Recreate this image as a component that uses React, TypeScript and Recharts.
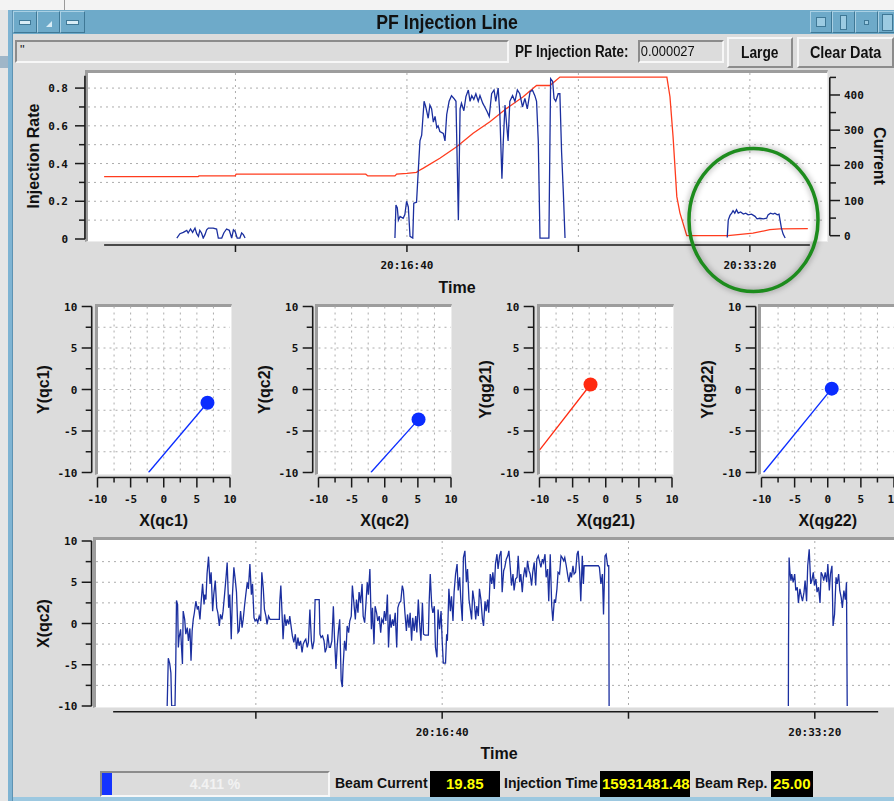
import React from 'react'
import { ComposedChart, Line, Scatter, XAxis, YAxis, CartesianGrid, ReferenceLine } from 'recharts'

type Pt = [number, number]

// time is in seconds after 20:00:00
const timeTicks = [500, 1000, 1500, 2000]
const timeLabelled = [1000, 2000]

// injection rate, three bursts
const rateBurstA: Pt[] = [
  [329, 0.005], [338, 0.028], [348, 0.035], [358, 0.046], [362, 0.032], [369, 0.053], [375, 0.035], [382, 0.058],
  [387, 0.028], [392, 0.014], [396, 0.046], [401, 0.032], [406, 0.005], [411, 0.023], [416, 0.049], [421, 0.058],
  [435, 0.058], [445, 0.053], [450, 0.005], [460, 0.005], [466, 0.032], [474, 0.053], [482, 0.046], [489, 0.005],
  [494, 0.049], [499, 0.04], [505, 0.005], [513, 0.005], [518, 0.032], [523, 0.023], [528, 0.005],
]
const rateBurstB: Pt[] = [
  [965, 0.005], [968, 0.18], [972, 0.165], [975, 0.1], [980, 0.12], [989, 0.11], [994, 0.13], [999, 0.2],
  [1004, 0.17], [1009, 0.014], [1017, 0.005], [1020, 0.19], [1028, 0.195], [1033, 0.36], [1038, 0.52], [1043, 0.55],
  [1050, 0.73], [1055, 0.7], [1062, 0.64], [1067, 0.71], [1072, 0.69], [1077, 0.62], [1082, 0.65], [1087, 0.59],
  [1091, 0.6], [1096, 0.57], [1106, 0.56], [1111, 0.52], [1116, 0.66], [1123, 0.73], [1130, 0.76], [1137, 0.745],
  [1143, 0.73], [1150, 0.1], [1155, 0.69], [1159, 0.72], [1166, 0.68], [1172, 0.755], [1179, 0.79], [1184, 0.73],
  [1189, 0.76], [1195, 0.74], [1201, 0.77], [1208, 0.73], [1213, 0.76], [1221, 0.72], [1227, 0.7], [1234, 0.675],
  [1240, 0.65], [1247, 0.77], [1254, 0.79], [1259, 0.73], [1266, 0.8], [1271, 0.66], [1277, 0.32], [1281, 0.52],
  [1286, 0.71], [1291, 0.6], [1295, 0.52], [1300, 0.73], [1308, 0.76], [1315, 0.73], [1322, 0.79], [1329, 0.77],
  [1337, 0.7], [1344, 0.745], [1351, 0.69], [1359, 0.78], [1366, 0.79], [1373, 0.76], [1378, 0.73], [1383, 0.52],
  [1388, 0.005], [1414, 0.005], [1419, 0.85], [1425, 0.835], [1429, 0.745], [1434, 0.73], [1441, 0.77], [1446, 0.77],
  [1451, 0.46], [1456, 0.25], [1461, 0.005],
]
const rateBurstC: Pt[] = [
  [1934, 0.008], [1937, 0.1], [1942, 0.125], [1947, 0.137], [1951, 0.15], [1956, 0.137], [1961, 0.155], [1966, 0.137],
  [1973, 0.143], [1981, 0.132], [1988, 0.137], [1995, 0.128], [2005, 0.132], [2015, 0.12], [2021, 0.107], [2029, 0.11],
  [2039, 0.107], [2049, 0.11], [2053, 0.128], [2060, 0.137], [2068, 0.132], [2073, 0.137], [2080, 0.128], [2085, 0.132],
  [2092, 0.058], [2097, 0.026], [2103, 0.005],
]

// stored beam current
const currentTrace: Pt[] = [
  [117, 168], [391, 168], [394, 170], [499, 170], [502, 175], [880, 175], [886, 170], [965, 170], [970, 175],
  [1000, 177], [1028, 180], [1033, 184], [1048, 192], [1096, 220], [1145, 253], [1193, 291], [1242, 324],
  [1291, 362], [1339, 395], [1368, 419], [1378, 427], [1417, 427], [1446, 451], [1758, 451], [1767, 395],
  [1776, 282], [1787, 111], [1796, 65], [1816, 0], [1936, 0], [2009, 7], [2058, 17], [2087, 19.5], [2169, 19.85],
]

// X(qc2) position history
const qc2RunA: Pt[] = [
  [262, -10], [265, -4.2], [269, -4.9], [272, -6], [274, -10], [283, -10], [285, -5.1], [287, 2.8], [290, 2.3],
  [292, -2.9], [294, -1.7], [298, -0.7], [301, -3.3], [303, -4.9], [305, 1.5], [309, 0.5], [312, -1.3], [316, -0.5],
  [319, -2.1], [323, -0.6], [326, -4.5], [329, -0.9], [332, 0.5], [335, 1.3], [339, 2.7], [343, 1.7], [346, 2.1],
  [350, 0.5], [353, 2.5], [357, 4.8], [361, 2.3], [363, 3.5], [366, 2.9], [369, 6], [373, 8.1], [377, 4.8], [380, 6.2],
  [384, 1.5], [387, 3.5], [391, 5.2], [395, 1.9], [398, 1.3], [402, -0.3], [405, 1.1], [409, 0.5], [412, 1.5],
  [416, 3.5], [420, 5.6], [423, 7.4], [427, 1.9], [430, 3.5], [434, -1.9], [437, 3.3], [441, 6.8], [445, 5.2],
  [448, 3.8], [452, -1.1], [455, -0.9], [459, 1.5], [463, -0.5], [466, 0.5], [470, 2.3], [473, 3.5], [477, 5],
  [480, 4.2], [484, 7.2], [488, 3.5], [491, 4.8], [495, 0.7], [498, 0.3], [502, 0.5], [505, 0.1], [509, 0.9],
  [513, 0.3], [516, 6.2], [520, 4.2], [523, 1.7], [527, 0.9], [530, -0.1], [534, 0.9], [538, 0.5], [563, 0.5],
  [564, 2.5], [567, 4.6], [570, 1.5], [573, -1.9], [577, 1.1], [581, -0.3], [584, 0.5], [588, -0.1], [591, 0.9],
  [595, -0.5], [598, -1.5], [602, -2.3], [606, -1.3], [609, -3.1], [613, -1.7], [616, -2.7], [620, -2.1], [624, -3.5],
  [627, -2.5], [631, -2.1], [634, -1.9], [638, -2.9], [641, -2.3], [645, 1.7], [649, -2.1], [652, -3.1], [656, -2.1],
  [659, 2.9], [670, 2.9], [672, -1.3], [675, -1.7], [679, -1.5], [683, -2.1], [686, -3.5], [690, -2.9], [693, -1.3],
  [697, -2.9], [700, -2.9], [704, -2.1], [708, 2.1], [711, -1.7], [715, -5.5], [718, -2.9], [722, -0.7], [725, 0.5],
  [729, -6.9], [732, -7.7], [734, -5.3], [738, -2.1], [742, -3.3], [745, -0.3], [749, -1.1], [752, 0.3], [756, 0.9],
  [759, 4.6], [763, 2.5], [767, 0.5], [770, 2.9], [774, 1.3], [777, 3.8], [781, 2.5], [785, 4.8], [788, 0.9],
  [792, 0.1], [795, 2.1], [799, 5], [802, 3.5], [806, 6.6], [810, -0.7], [813, 1.9], [817, -2.5], [820, 2.1],
  [824, 1.3], [827, 0.3], [831, 0.9], [835, -1.1], [838, 0.5], [842, 0.1], [845, 1.5], [849, 0.3], [853, 3.5],
  [856, -2.9], [860, 1.1], [863, -0.5], [867, 0.5], [870, -0.3], [874, 1.3], [878, -2.9], [881, 1.9], [885, 2.5],
  [889, 2.7], [893, 4.6], [896, 4], [900, 1.3], [904, -0.9], [907, 1.1], [911, -0.5], [914, 1.3], [918, -2.1],
  [921, 0.7], [925, -0.9], [929, 0.9], [932, -1.1], [936, 2.9], [939, 0.3], [943, -2.1], [947, 2.5], [950, -1.3],
  [954, -1.4], [963, -1.4], [965, 2.5], [968, 6], [972, 2.1], [975, 1.3], [979, 2.1], [982, -2.9], [986, -4.1],
  [989, 1.7], [993, -0.7], [997, 1.5], [1000, -2.1], [1003, -4.8], [1009, -4.8], [1012, -1.3], [1014, -2.1],
  [1018, 4.2], [1022, 1.5], [1025, 3.3], [1029, 0.3], [1032, 3.8], [1036, 6], [1040, 7.2], [1043, 4], [1047, 5.6],
  [1050, 2.9], [1054, 0.3], [1057, 8], [1061, 8.8], [1065, 5], [1068, 6.6], [1072, 2.9], [1075, 1.9], [1079, 0.5],
  [1082, 4], [1086, 2.7], [1090, 0.5], [1093, 2.1], [1097, 0.9], [1100, 4.2], [1104, 2.9], [1108, 0.5], [1111, -0.3],
  [1115, 2.7], [1118, 1.5], [1122, 2.9], [1125, 1.3], [1129, 6], [1133, 4.8], [1136, 6.2], [1140, 4.2], [1143, 7.2],
  [1147, 8.4], [1150, 6.6], [1154, 8.2], [1158, 8.8], [1161, 3.8], [1165, 6.4], [1168, 6.8], [1172, 7.8], [1176, 8.2],
  [1179, 8.8], [1183, 6.6], [1186, 4.6], [1190, 6], [1193, 4], [1197, 5.4], [1201, 5.6], [1204, 8.2], [1208, 5],
  [1211, 6], [1215, 3.8], [1218, 5.6], [1222, 6.8], [1226, 5.6], [1229, 7.6], [1233, 6.4], [1236, 6], [1240, 4.6],
  [1243, 6.2], [1247, 7.4], [1251, 4.6], [1254, 7.8], [1258, 8.2], [1261, 7.6], [1265, 6.8], [1269, 7.8], [1272, 7.4],
  [1276, 8.4], [1279, 5.6], [1283, 6.6], [1286, 2.7], [1290, 8.4], [1294, 2.1], [1297, 0.3], [1301, 2.9], [1304, 2.5],
  [1308, 4.2], [1311, 6.2], [1315, 6], [1319, 8.2], [1322, 8], [1326, 7.6], [1329, 8], [1333, 7], [1337, 5.8],
  [1340, 5], [1344, 6.2], [1347, 5.6], [1351, 7], [1354, 6], [1358, 6.2], [1362, 8.4], [1365, 8.8], [1369, 6.2],
  [1372, 2.7], [1376, 8.2], [1379, 4.8], [1381, 7], [1419, 7], [1422, 6.8], [1426, 4.8], [1430, 6], [1433, 1.1],
  [1437, 8.2], [1440, 8.4], [1444, 7], [1447, 7], [1448, -10],
]
const qc2RunB: Pt[] = [
  [1929, -10], [1929.5, -1.9], [1931, 8], [1933, 6.4], [1936, 5.2], [1938, 6], [1942, 5], [1946, 6], [1949, 4],
  [1953, 4.4], [1956, 2.5], [1960, 4.2], [1964, 3.3], [1967, 2.7], [1971, 3.8], [1974, 5.2], [1978, 2.7], [1981, 7],
  [1985, 9], [1989, 4.8], [1992, 5.2], [1996, 6.2], [1999, 4.6], [2003, 5.4], [2006, 3.8], [2010, 4.4], [2014, 2.5],
  [2017, 6.2], [2021, 5.8], [2024, 5.2], [2028, 6.2], [2032, 5], [2035, 7.2], [2039, 4], [2042, 6], [2046, 7],
  [2049, -0.3], [2053, 1.1], [2057, 5.6], [2060, 4.8], [2064, 6], [2067, 4], [2071, 3.1], [2074, 1.9], [2078, 4],
  [2082, 2.9], [2085, 5], [2087, -10],
]

// position monitors: trail start and current beam position
const padNames = ['qc1', 'qc2', 'qg21', 'qg22']
const padTrailStart: Pt[] = [[-2.3, -10], [-2.1, -10], [-10, -7.3], [-9.7, -10]]
const padBeam: Pt[] = [[6.6, -1.6], [5.1, -3.6], [-2.3, 0.6], [0.6, 0.1]]
const padColors = ['#0a2cff', '#0a2cff', '#ff2a10', '#0a2cff']

const rateTicks = [0, 0.1, 0.2, 0.3, 0.4, 0.5, 0.6, 0.7, 0.8]
const currentTicks = [0, 50, 100, 150, 200, 250, 300, 350, 400, 450]
const padTicks = [-10, -7.5, -5, -2.5, 0, 2.5, 5, 7.5, 10]
const padGrid = [-7.5, -5, -2.5, 0, 2.5, 5, 7.5]

const injectionRateReading = '0.000027'
const progressPct = 4.411
const injectionTime = '15931481.48'
const beamRep = '25.00'

const UI_FONT = '"Liberation Sans", Arial, sans-serif'
const TITLE_FONT = '"Liberation Sans", Arial, sans-serif'
const TICK_FONT = '"DejaVu Sans Mono", monospace'
const TRACE_BLUE = '#1b2f9f'

const hhmmss = (t: number) => {
  const s = 72000 + t
  return [Math.floor(s / 3600), Math.floor((s % 3600) / 60), s % 60].map((n) => String(n).padStart(2, '0')).join(':')
}

function toRows(segs: Pt[][]) {
  const rows: { t: number; v: number | null }[] = []
  segs.forEach((seg, i) => {
    if (i > 0) {
      const prev = segs[i - 1]
      rows.push({ t: (prev[prev.length - 1][0] + seg[0][0]) / 2, v: null })
    }
    seg.forEach(([t, v]) => rows.push({ t, v }))
  })
  return rows
}

function YTick(props: any) {
  const { x, y, payload, side, gap, labelGap, isMajor, fmt } = props
  const v = payload.value
  const major = isMajor(v)
  const dir = side === 'left' ? -1 : 1
  const x0 = x + dir * gap
  return (
    <g>
      <line x1={x0} x2={x0 + dir * (major ? 10 : 6)} y1={y} y2={y} stroke="#1a1a1a" strokeWidth={1.5} />
      {major && (
        <text x={x0 + dir * labelGap} y={y} dy={4} textAnchor={side === 'left' ? 'end' : 'start'}
          fontFamily={TICK_FONT} fontWeight="bold" fontSize={11} fill="#111">
          {fmt(v)}
        </text>
      )}
    </g>
  )
}

function XTick(props: any) {
  const { x, y, payload, gap, isMajor, fmt, majorLen, minorLen } = props
  const v = payload.value
  const major = isMajor(v)
  return (
    <g>
      <line x1={x} x2={x} y1={y + gap} y2={y + gap + (major ? majorLen : minorLen)} stroke="#1a1a1a" strokeWidth={1.5} />
      {major && (
        <text x={x} y={y + 30} textAnchor="middle" fontFamily={TICK_FONT} fontWeight="bold" fontSize={11} fill="#111">
          {fmt(v)}
        </text>
      )}
    </g>
  )
}

// axis caption; placed from the axis box that recharts hands to labels
function AxisTitle(props: any) {
  const { viewBox, caption, edge, shift } = props
  const { x, y, width, height } = viewBox
  const common = { fontFamily: TITLE_FONT, fontWeight: 'bold' as const, fontSize: 16, fill: '#111' }
  if (edge === 'bottom') {
    return <text x={x + width / 2} y={y + shift} textAnchor="middle" {...common}>{caption}</text>
  }
  const cx = x + shift
  const cy = y + height / 2
  return (
    <text x={cx} y={cy} dy={6} textAnchor="middle" transform={`rotate(${edge === 'left' ? -90 : 90} ${cx} ${cy})`} {...common}>
      {caption}
    </text>
  )
}

const bevel = (up: boolean, w = 2): React.CSSProperties => ({
  boxSizing: 'border-box',
  borderStyle: 'solid',
  borderWidth: w,
  borderColor: up ? '#f7f7f7 #8c8c8c #8c8c8c #f7f7f7' : '#8c8c8c #f7f7f7 #f7f7f7 #8c8c8c',
})

const abs = (left: number, top: number, width: number, height: number): React.CSSProperties => ({
  position: 'absolute', left, top, width, height,
})

// narrow bold face of the window toolkit
const narrow = (size: number, squeeze = 0.86): React.CSSProperties => ({
  fontFamily: UI_FONT, fontWeight: 'bold', fontSize: size, whiteSpace: 'nowrap',
  transform: `scaleX(${squeeze})`, color: '#111',
})

function PlotFrame({ left, top, width, height }: { left: number; top: number; width: number; height: number }) {
  return (
    <div style={{
      ...abs(left, top, width, height), boxSizing: 'border-box', background: '#fff',
      borderTop: '3px solid #9d9d9d', borderLeft: '3px solid #9d9d9d', borderRight: '1px solid #ececec', borderBottom: '1px solid #ececec',
    }} />
  )
}

function TitleButton({ left, width, glyph }: { left: number; width: number; glyph: React.ReactNode }) {
  return (
    <div style={{
      ...abs(left, 11, width, 22), boxSizing: 'border-box', border: '1px solid', borderColor: '#a9d0e4 #3f7896 #3f7896 #a9d0e4',
      display: 'flex', alignItems: 'center', justifyContent: 'center',
    }}>{glyph}</div>
  )
}

function RateChart() {
  const rateRows = toRows([rateBurstA, rateBurstB, rateBurstC])
  const currentRows = toRows([currentTrace])
  return (
    <ComposedChart width={894} height={240} margin={{ top: 13, right: 8, bottom: 11, left: 28 }}>
      <CartesianGrid yAxisId="rate" horizontalValues={rateTicks.slice(1)} verticalValues={timeTicks}
        stroke="#acacac" strokeDasharray="2 4" />
      <XAxis type="number" dataKey="t" domain={[70, 2222]} allowDataOverflow ticks={timeTicks} interval={0} height={50}
        axisLine={false} tickLine={false} tickSize={0} tickMargin={0}
        tick={<XTick gap={6} majorLen={7} minorLen={7} isMajor={() => true} fmt={(v: number) => (timeLabelled.includes(v) ? hhmmss(v) : '')} />}
        label={<AxisTitle edge="bottom" caption="Time" shift={54} />} />
      <YAxis yAxisId="rate" type="number" domain={[0, 0.88]} allowDataOverflow ticks={rateTicks} interval={0} width={60}
        axisLine={false} tickLine={false} tickSize={0} tickMargin={0}
        tick={<YTick side="left" gap={3} labelGap={17} isMajor={(v: number) => Math.round(v * 10) % 2 === 0}
          fmt={(v: number) => (v === 0 ? '0' : v.toFixed(1))} />}
        label={<AxisTitle edge="left" caption="Injection Rate" shift={5} />} />
      <YAxis yAxisId="current" orientation="right" type="number" domain={[-9.4, 462.5]} allowDataOverflow ticks={currentTicks}
        interval={0} width={60} axisLine={false} tickLine={false} tickSize={0} tickMargin={0}
        tick={<YTick side="right" gap={4} labelGap={14} isMajor={(v: number) => v % 100 === 0} fmt={(v: number) => String(v)} />}
        label={<AxisTitle edge="right" caption="Current" shift={54} />} />
      <ReferenceLine yAxisId="rate" ifOverflow="visible" stroke="#1a1a1a" strokeWidth={1.6}
        segment={[{ x: 61, y: 0 }, { x: 61, y: 0.865 }]} />
      <ReferenceLine yAxisId="rate" ifOverflow="visible" stroke="#1a1a1a" strokeWidth={1.6}
        segment={[{ x: 117, y: -0.032 }, { x: 2175, y: -0.032 }]} />
      <ReferenceLine yAxisId="current" ifOverflow="visible" stroke="#1a1a1a" strokeWidth={1.6}
        segment={[{ x: 2233, y: 0 }, { x: 2233, y: 450 }]} />
      <Line yAxisId="current" data={currentRows} dataKey="v" type="linear" stroke="#ff3c1e" strokeWidth={1.3}
        dot={false} isAnimationActive={false} />
      <Line yAxisId="rate" data={rateRows} dataKey="v" type="linear" stroke={TRACE_BLUE} strokeWidth={1.3}
        dot={false} isAnimationActive={false} />
    </ComposedChart>
  )
}

function PadChart({ i }: { i: number }) {
  const trail = [padTrailStart[i], padBeam[i]].map(([x, y]) => ({ x, y }))
  const color = padColors[i]
  return (
    <ComposedChart width={242} height={245} margin={{ top: 16.5, right: 12, bottom: 12.5, left: 37.5 }}>
      <CartesianGrid horizontalValues={padGrid} verticalValues={padGrid} stroke="#acacac" strokeDasharray="2 4" />
      <XAxis type="number" dataKey="x" domain={[-10, 10]} allowDataOverflow ticks={padTicks} interval={0} height={50}
        axisLine={false} tickLine={false} tickSize={0} tickMargin={0}
        tick={<XTick gap={5} majorLen={10} minorLen={5} isMajor={(v: number) => v % 5 === 0} fmt={(v: number) => String(v)} />}
        label={<AxisTitle edge="bottom" caption={`X(${padNames[i]})`} shift={53} />} />
      <YAxis type="number" dataKey="y" domain={[-10, 10]} allowDataOverflow ticks={padTicks} interval={0} width={60}
        axisLine={false} tickLine={false} tickSize={0} tickMargin={0}
        tick={<YTick side="left" gap={5.8} labelGap={14.4} isMajor={(v: number) => v % 5 === 0} fmt={(v: number) => String(v)} />}
        label={<AxisTitle edge="left" caption={`Y(${padNames[i]})`} shift={5.5} />} />
      <ReferenceLine ifOverflow="visible" stroke="#1a1a1a" strokeWidth={1.6}
        segment={[{ x: -10.875, y: -10 }, { x: -10.875, y: 10 }]} />
      <ReferenceLine ifOverflow="visible" stroke="#1a1a1a" strokeWidth={1.6}
        segment={[{ x: -10, y: -10.6 }, { x: 10, y: -10.6 }]} />
      <Line data={trail} dataKey="y" type="linear" stroke={color} strokeWidth={1.3} dot={false} isAnimationActive={false} />
      <Scatter data={[trail[1]]} fill={color} isAnimationActive={false}
        shape={(p: any) => <circle cx={p.cx} cy={p.cy} r={7} fill={color} />} />
    </ComposedChart>
  )
}

function Qc2Chart() {
  const rows = toRows([qc2RunA, qc2RunB])
  return (
    <ComposedChart width={910} height={240} margin={{ top: 11, right: 8, bottom: 10, left: 30 }}>
      <CartesianGrid horizontalValues={padGrid} verticalValues={timeTicks} stroke="#acacac" strokeDasharray="2 4" />
      <XAxis type="number" dataKey="t" domain={[71, 2234]} allowDataOverflow ticks={timeTicks} interval={0} height={54}
        axisLine={false} tickLine={false} tickSize={0} tickMargin={0}
        tick={<XTick gap={5.7} majorLen={7} minorLen={7} isMajor={() => true} fmt={(v: number) => (timeLabelled.includes(v) ? hhmmss(v) : '')} />}
        label={<AxisTitle edge="bottom" caption="Time" shift={53} />} />
      <YAxis type="number" domain={[-10, 10]} allowDataOverflow ticks={padTicks} interval={0} width={66}
        axisLine={false} tickLine={false} tickSize={0} tickMargin={0}
        tick={<YTick side="left" gap={4.3} labelGap={14.4} isMajor={(v: number) => v % 5 === 0} fmt={(v: number) => String(v)} />}
        label={<AxisTitle edge="left" caption="X(qc2)" shift={13} />} />
      <ReferenceLine ifOverflow="visible" stroke="#1a1a1a" strokeWidth={1.6}
        segment={[{ x: 59, y: -10 }, { x: 59, y: 10 }]} />
      <ReferenceLine ifOverflow="visible" stroke="#1a1a1a" strokeWidth={1.6}
        segment={[{ x: 117, y: -10.69 }, { x: 2170, y: -10.69 }]} />
      <Line data={rows} dataKey="v" type="linear" stroke={TRACE_BLUE} strokeWidth={1.3} dot={false} isAnimationActive={false} />
    </ComposedChart>
  )
}

export default function App() {
  const beamCurrent = currentTrace[currentTrace.length - 1][1].toFixed(2)
  const padLefts = [0, 220.7, 442, 663.6]
  const label: React.CSSProperties = { position: 'absolute', fontFamily: TITLE_FONT, fontWeight: 'bold', fontSize: 14, color: '#111', whiteSpace: 'nowrap' }
  const readout = (left: number, width: number, text: string, pad: number) => (
    <div style={{ ...abs(left, 771, width, 26), background: '#000', color: '#ffff00', fontFamily: TITLE_FONT, fontWeight: 'bold',
      fontSize: 15, lineHeight: '26px', paddingLeft: pad, boxSizing: 'border-box', whiteSpace: 'nowrap' }}>{text}</div>
  )
  return (
    <div style={{ ...abs(0, 0, 894, 801), background: '#dcdcdc', overflow: 'hidden', fontFamily: UI_FONT }}>
      {/* desktop strip and window frame */}
      <div style={{ ...abs(0, 0, 894, 10), background: '#f3f3f3' }} />
      <div style={{ ...abs(64, 0, 1, 10), background: '#9a9a9a' }} />
      <div style={{ ...abs(0, 10, 8, 791), background: '#e6e6e6' }} />
      <div style={{ ...abs(0, 56, 9, 12), background: '#9fb6c8' }} />
      <div style={{ ...abs(8, 10, 5, 791), background: '#7fb4d3', borderRight: '1px solid #5d93b3', boxSizing: 'border-box' }} />
      <div style={{ ...abs(13, 797, 881, 4), background: '#9cc8e0' }} />

      {/* title bar */}
      <div style={{ ...abs(13, 10, 881, 24), background: '#6eaac9' }} />
      <TitleButton left={13} width={24} glyph={<div style={{ width: 10, height: 3, background: '#d8ecf6', border: '1px solid #3f7896' }} />} />
      <TitleButton left={37} width={23} glyph={<div style={{ width: 0, height: 0, borderLeft: '6px solid transparent', borderBottom: '6px solid #d8ecf6', marginTop: 4 }} />} />
      <TitleButton left={60} width={25} glyph={<div style={{ width: 11, height: 3, background: '#d8ecf6', border: '1px solid #3f7896' }} />} />
      <div style={{ ...abs(85, 10, 725, 24), display: 'flex', justifyContent: 'center', alignItems: 'center' }}>
        <span style={{ ...narrow(20, 0.885), display: 'inline-block' }}>PF Injection Line</span>
      </div>
      <TitleButton left={810} width={22} glyph={<div style={{ width: 8, height: 8, border: '1px solid #3f7896', background: '#9ccbe2' }} />} />
      <TitleButton left={832} width={23} glyph={<div style={{ width: 5, height: 13, border: '1px solid #3f7896', background: '#9ccbe2' }} />} />
      <TitleButton left={855} width={23} glyph={<div style={{ width: 3, height: 3, border: '1px solid #3f7896', background: '#9ccbe2' }} />} />
      <TitleButton left={878} width={22} glyph={<div style={{ width: 9, height: 15, border: '1px solid #3f7896', background: '#9ccbe2', marginLeft: -4 }} />} />

      {/* control row */}
      <div style={{ ...abs(15, 40, 494, 23), ...bevel(false), fontSize: 13, paddingLeft: 3, lineHeight: '15px', color: '#222' }}>"</div>
      <div style={{ ...abs(515, 42, 140, 20), ...narrow(16, 0.84), lineHeight: '20px', transformOrigin: 'left center' }}>PF Injection Rate:</div>
      <div style={{ ...abs(638, 40, 86, 23), ...bevel(false) }}>
        <div style={{ ...narrow(15, 0.86), lineHeight: '18px', paddingLeft: 1, fontWeight: 'normal', transformOrigin: 'left center' }}>
          {injectionRateReading}
        </div>
      </div>
      <div style={{ ...abs(727, 37, 66, 31), ...bevel(true), display: 'flex', justifyContent: 'center', alignItems: 'center' }}>
        <span style={{ ...narrow(16), display: 'inline-block' }}>Large</span>
      </div>
      <div style={{ ...abs(797, 37, 97, 31), ...bevel(true), display: 'flex', justifyContent: 'center', alignItems: 'center' }}>
        <span style={{ ...narrow(16, 0.9), display: 'inline-block' }}>Clear Data</span>
      </div>

      {/* injection rate and current */}
      <PlotFrame left={85} top={70} width={743} height={172} />
      <div style={{ position: 'absolute', left: 0, top: 60 }}><RateChart /></div>

      {/* beam position monitors */}
      {padLefts.map((dx, i) => (
        <React.Fragment key={padNames[i]}>
          <PlotFrame left={94.5 + dx} top={303.5} width={137} height={171.5} />
          <div style={{ position: 'absolute', left: dx, top: 290 }}><PadChart i={i} /></div>
        </React.Fragment>
      ))}

      {/* X(qc2) history */}
      <PlotFrame left={93} top={537} width={820} height={171} />
      <div style={{ position: 'absolute', left: 0, top: 530 }}><Qc2Chart /></div>

      {/* annotation ring */}
      <svg style={{ ...abs(0, 0, 894, 801), pointerEvents: 'none' }}>
        <defs>
          <filter id="halo" x="-20%" y="-20%" width="140%" height="140%">
            <feGaussianBlur stdDeviation="2.5" />
          </filter>
        </defs>
        <ellipse cx={753.5} cy={220} rx={64.5} ry={71.5} fill="none" stroke="rgba(0,0,0,0.18)" strokeWidth={8} filter="url(#halo)" />
        <ellipse cx={753.5} cy={220} rx={64.5} ry={71.5} fill="none" stroke="#1d8c1d" strokeWidth={3.5} />
      </svg>

      {/* status row */}
      <div style={{ ...abs(100, 771, 230, 26), ...bevel(false), background: '#dcdcdc' }}>
        <div style={{ position: 'absolute', left: 0, top: 0, bottom: 0, width: `${progressPct}%`, background: '#1434ff' }} />
        <div style={{ position: 'absolute', inset: 0, textAlign: 'center', fontFamily: TITLE_FONT, fontWeight: 'bold', fontSize: 14,
          lineHeight: '22px', color: '#f2f2f2' }}>{progressPct.toFixed(3)} %</div>
      </div>
      <div style={{ ...label, left: 335, top: 775 }}>Beam Current</div>
      {readout(430, 70, beamCurrent, 16)}
      <div style={{ ...label, left: 504, top: 775 }}>Injection Time</div>
      {readout(600, 90, injectionTime, 2)}
      <div style={{ ...label, left: 695, top: 775 }}>Beam Rep.</div>
      {readout(771, 42, beamRep, 2)}
    </div>
  )
}
